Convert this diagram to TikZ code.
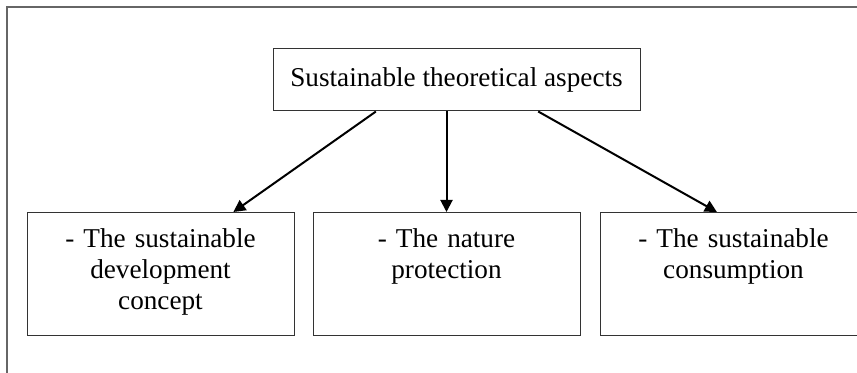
\documentclass[tikz,border=0pt]{standalone}
\usepackage{fontspec}
\setmainfont{Liberation Serif}
\usetikzlibrary{arrows.meta,calc}

\begin{document}
\begin{tikzpicture}[x=0.5pt,y=-0.5pt,->,>={Triangle[length=6pt,width=6pt]},
                    line width=1pt,font=\fontsize{13.6}{15.6}\selectfont]
  \tikzstyle{topic}=[draw=black!80,line width=0.5pt,inner sep=0pt,
                     minimum width=183.5pt,minimum height=31pt]
  \tikzstyle{aspect}=[draw=black!80,line width=0.5pt,inner xsep=0pt,inner ysep=0pt,
                      text width=133.5pt,align=center,text height=17.5pt,text depth=44pt,
                      anchor=north]

  \clip (0,0) rectangle (857,373);
  \draw[-,black!60,line width=1pt] (7,380) |- (870,7);

  \node[topic]  (aspects)     at (456.5,80) {Sustainable theoretical aspects};
  \node[aspect] (development) at (160.5,212) {- The sustainable\\ development\\ concept};
  \node[aspect] (nature)      at (446.5,212) {- The nature\\ protection};
  \node[aspect] (consumption) at (733.5,212) {- The sustainable\\ consumption};

  \draw ($(aspects.south west)!0.281!(aspects.south east)$)
        -- ($(development.north west)!0.772!(development.north east)$);
  \draw (aspects.south -| nature.north) -- (nature.north);
  \draw ($(aspects.south west)!0.722!(aspects.south east)$)
        -- ($(consumption.north west)!0.438!(consumption.north east)$);
\end{tikzpicture}
\end{document}
